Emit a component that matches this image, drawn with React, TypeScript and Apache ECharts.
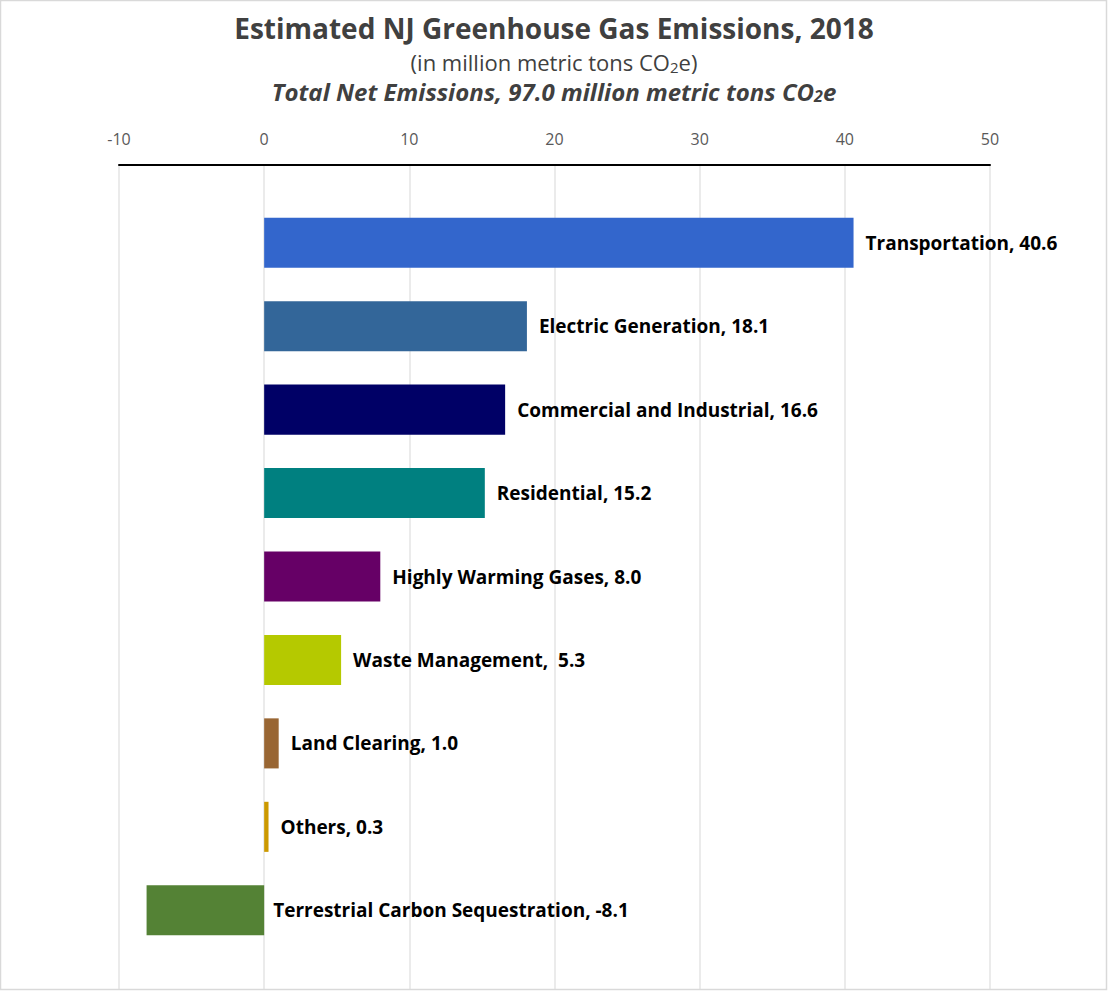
import React, { useEffect, useRef } from "react";
import * as echarts from "echarts";

const categories = [
  "Transportation",
  "Electric Generation",
  "Commercial and Industrial",
  "Residential",
  "Highly Warming Gases",
  "Waste Management",
  "Land Clearing",
  "Others",
  "Terrestrial Carbon Sequestration",
];
const values = [40.6, 18.1, 16.6, 15.2, 8.0, 5.3, 1.0, 0.3, -8.1];
const barColors = [
  "#3366CC",
  "#336699",
  "#000066",
  "#008080",
  "#660066",
  "#B5C900",
  "#996633",
  "#CC9900",
  "#548235",
];
const xTicks = { min: -10, max: 50, interval: 10 };

const FONT = "'Open Sans', Lato, sans-serif";

export default function App() {
  const ref = useRef<HTMLDivElement>(null);
  useEffect(() => {
    if (!ref.current) return;
    const chart = echarts.init(ref.current, undefined, { renderer: "svg" });
    chart.setOption({
      animation: false,
      backgroundColor: "#ffffff",
      title: [
        {
          text: "Estimated NJ Greenhouse Gas Emissions, 2018",
          left: "center",
          top: 5,
          textStyle: { fontFamily: FONT, fontSize: 28, lineHeight: 36, fontWeight: "bold", color: "#404040" },
        },
        {
          text: "(in million metric tons CO{s|2}e)",
          left: "center",
          top: 44,
          textStyle: {
            fontFamily: FONT,
            fontSize: 22,
            lineHeight: 26,
            fontWeight: "normal",
            color: "#404040",
            rich: {
              s: { fontSize: 15, lineHeight: 26, padding: [9, 0, 0, 0], fontFamily: FONT, color: "#404040", fontWeight: "normal" },
            },
          },
        },
        {
          text: "Total Net Emissions, 97.0 million metric tons CO{s|2}e",
          left: "center",
          top: 72,
          textStyle: {
            fontFamily: FONT,
            fontSize: 24,
            lineHeight: 28,
            fontWeight: "bold",
            fontStyle: "italic",
            color: "#404040",
            rich: {
              s: {
                fontSize: 16,
                lineHeight: 28,
                padding: [9, 0, 0, 0],
                fontFamily: FONT,
                color: "#404040",
                fontWeight: "bold",
                fontStyle: "italic",
              },
            },
          },
        },
      ],
      graphic: [
        {
          type: "rect",
          shape: { x: 0.5, y: 0.5, width: 1106, height: 989 },
          style: { fill: "none", stroke: "#d9d9d9", lineWidth: 1.5 },
          silent: true,
          z: 100,
        },
      ],
      grid: [
        { left: 119, right: 118, top: 201, height: 751 },
        { left: 119, right: 118, top: 165, bottom: 4 },
      ],
      xAxis: [
        { type: "value", gridIndex: 0, ...xTicks, show: false },
        {
          type: "value",
          gridIndex: 1,
          position: "top",
          ...xTicks,
          axisLine: { show: true, onZero: false, lineStyle: { color: "#000000", width: 2 } },
          axisTick: { show: false },
          axisLabel: { color: "#595959", fontFamily: FONT, fontSize: 16, margin: 18 },
          splitLine: { show: true, lineStyle: { color: "#e4e4e4", width: 1.5 } },
        },
      ],
      yAxis: [
        { type: "category", gridIndex: 0, data: categories, inverse: true, show: false },
        { type: "value", gridIndex: 1, show: false, min: 0, max: 1 },
      ],
      series: [
        {
          type: "bar",
          xAxisIndex: 0,
          yAxisIndex: 0,
          barWidth: "60%",
          data: values.map((v, i) => ({
            value: v,
            itemStyle: { color: barColors[i] },
            label: v < 0 ? { distance: 9 } : undefined,
          })),
          label: {
            show: true,
            position: "right",
            distance: 12,
            fontFamily: FONT,
            fontSize: 19,
            fontWeight: "bold",
            color: "#000000",
            formatter: (p: any) =>
              `${p.name},${p.name === "Waste Management" ? "  " : " "}${Number(p.value).toFixed(1)}`,
          },
        },
      ],
    });
    return () => chart.dispose();
  }, []);
  return (
    <div
      ref={ref}
      style={{ position: "fixed", left: 0, top: 0, width: 1108, height: 993 }}
    />
  );
}
